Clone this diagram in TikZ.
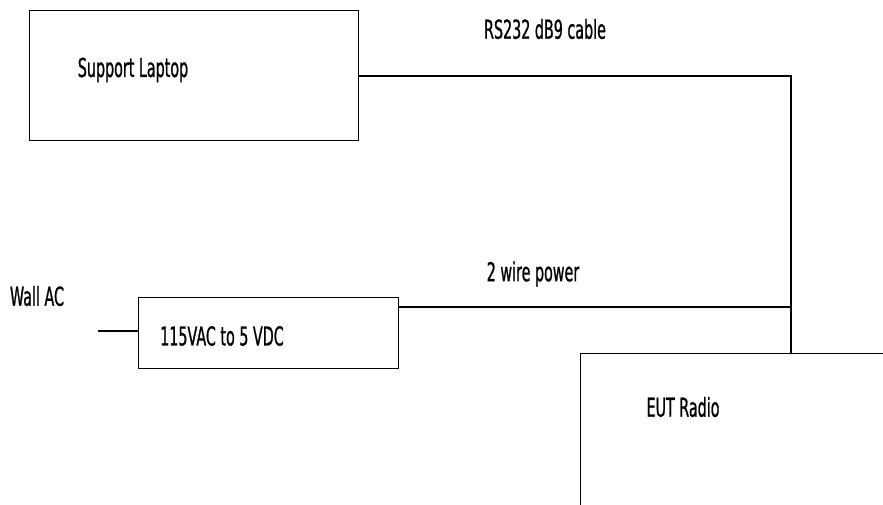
\documentclass[tikz,border=0pt]{standalone}
\usepackage{fontspec}
\setmainfont{DejaVu Sans}[FakeStretch=0.55,FakeBold=0.8]
\usepackage{tikz}
\usetikzlibrary{positioning}

\tikzset{
    box/.style={draw, line width=1.4pt, inner sep=0pt, anchor=north west},
    lbl/.style={inner sep=0pt, font=\fontsize{26}{28}\selectfont},
    wire/.style={line width=1.4pt}
}

\begin{document}
\begin{tikzpicture}[x=1pt,y=-1pt]
        % Frame
        \clip (0,0) rectangle (883,504);
        \fill[white] (0,0) rectangle (883,504);

        % Boxes
        \node[box, minimum width=329pt, minimum height=130pt] (laptop) at (29,10) {};
        \node[box, minimum width=260pt, minimum height=71pt] (conv) at (138,297) {};
        \node[box, minimum width=330pt, minimum height=180pt] (radio) at (580,353) {};

        % Labels
        \node[lbl] (laptoptxt) at (133,70) {Support Laptop};
        \node[lbl] (convtxt) at (222,336) {115VAC to 5 VDC};
        \node[lbl] (radiotxt) at (683,407) {EUT Radio};
        \node[lbl] (walltxt) at (37,296) {Wall AC};
        \node[lbl] (rstxt) at (545,29) {RS232 dB9 cable};
        \node[lbl] (pwrtxt) at (533,274) {2 wire power};

        % Cable ends
        \coordinate (rsbend) at (791,76);
        \coordinate (pwrout) at (398,307);
        \coordinate (wallend) at (98,331);

        % Cables
        \draw[wire] (laptop.east |- rsbend) -- (rsbend) -- (rsbend |- radio.north);
        \draw[wire] (pwrout) -- (pwrout -| rsbend);
        \draw[wire] (wallend) -- (wallend -| conv.west);
    \end{tikzpicture}
\end{document}
